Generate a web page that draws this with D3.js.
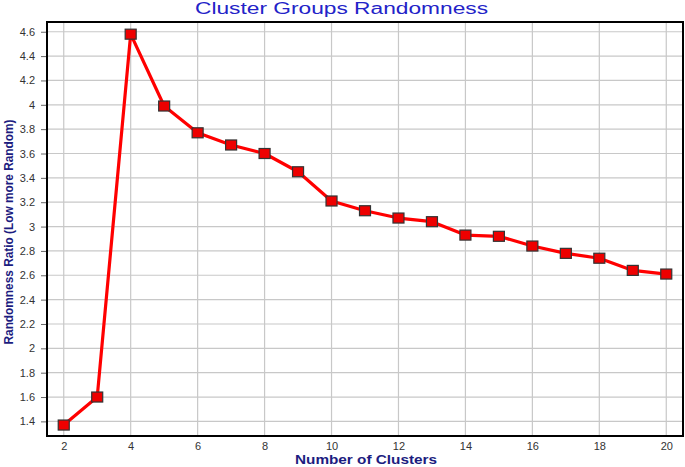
<!DOCTYPE html>
<html><head><meta charset="utf-8">
<script src="https://cdn.jsdelivr.net/npm/d3@7/dist/d3.min.js"></script>
<style>body{margin:0;background:#fff}</style>
</head><body>
<svg id="c" width="685" height="467"></svg>
<script>
const clusters = [2,3,4,5,6,7,8,9,10,11,12,13,14,15,16,17,18,19,20];
const ratio = [1.37,1.60,4.58,3.99,3.77,3.67,3.60,3.45,3.21,3.13,3.07,3.04,2.93,2.92,2.84,2.78,2.74,2.64,2.61];
const xTicks = [2,4,6,8,10,12,14,16,18,20];
const yTicks = [1.4,1.6,1.8,2,2.2,2.4,2.6,2.8,3,3.2,3.4,3.6,3.8,4,4.2,4.4,4.6];
const xGrid = [2,4,6,8,10,12,14,16,18,20];

const svg = d3.select('#c');
const L=47, R=683, T=22, B=436;
const x = d3.scaleLinear().domain([1.5,20.5]).range([L,R]);
const y = d3.scaleLinear().domain([1.28,4.68]).range([B,T]);

const g = svg.append('g');
g.selectAll('.vg').data(xGrid).enter().append('line')
  .attr('x1',d=>x(d)).attr('x2',d=>x(d)).attr('y1',T).attr('y2',B)
  .attr('stroke','#c8c8c8').attr('stroke-width',1.2);
g.selectAll('.hg').data(yTicks).enter().append('line')
  .attr('x1',L).attr('x2',R).attr('y1',d=>y(d)).attr('y2',d=>y(d))
  .attr('stroke','#c8c8c8').attr('stroke-width',1.2);

const yAxis = d3.axisLeft(y).tickValues(yTicks).tickSize(6).tickFormat(d3.format('~g'));
const ya = svg.append('g').attr('transform',`translate(${L},0)`).call(yAxis);
ya.select('.domain').remove();
ya.selectAll('line').attr('stroke','#666');
ya.selectAll('text').attr('font-family','Arial, Liberation Sans, sans-serif').attr('font-size',11).attr('fill','#333').attr('x',-12);

const xAxis = d3.axisBottom(x).tickValues(xTicks).tickSize(0).tickFormat(d3.format('d'));
const xa = svg.append('g').attr('transform',`translate(0,${B})`).call(xAxis);
xa.select('.domain').remove();
xa.selectAll('text').attr('font-family','Arial, Liberation Sans, sans-serif').attr('font-size',11).attr('fill','#333').attr('y',0).attr('dy',0)
  .attr('transform','translate(0,14)');

svg.append('rect').attr('x',L).attr('y',T).attr('width',R-L).attr('height',B-T)
  .attr('fill','none').attr('stroke','#000').attr('stroke-width',2);

const line = d3.line().x((d,i)=>x(clusters[i])).y(d=>y(d));
svg.append('path').datum(ratio).attr('d',line).attr('fill','none')
  .attr('stroke','#ff0000').attr('stroke-width',3.2).attr('stroke-linejoin','round');

svg.selectAll('.m').data(ratio).enter().append('rect')
  .attr('x',(d,i)=>x(clusters[i])-5.5).attr('y',d=>y(d)-5)
  .attr('width',11).attr('height',10)
  .attr('fill','#ee0000').attr('stroke','#333').attr('stroke-width',1.2);

svg.append('text').attr('x',341.5).attr('y',14).attr('text-anchor','middle')
  .attr('font-family','Arial, Liberation Sans, sans-serif').attr('font-size',16)
  .attr('textLength',293).attr('lengthAdjust','spacingAndGlyphs')
  .attr('fill','#2323c8').text('Cluster Groups Randomness');
svg.append('text').attr('x',366).attr('y',464).attr('text-anchor','middle')
  .attr('font-family','Arial, Liberation Sans, sans-serif').attr('font-size',12.5).attr('font-weight','bold')
  .attr('textLength',142).attr('lengthAdjust','spacingAndGlyphs')
  .attr('fill','#1c1c80').text('Number of Clusters');
svg.append('text').attr('transform','translate(13,232) rotate(-90)').attr('text-anchor','middle')
  .attr('font-family','Liberation Sans Narrow, Arial Narrow, sans-serif').attr('font-size',12.5).attr('font-weight','bold')
  .attr('textLength',225).attr('lengthAdjust','spacingAndGlyphs')
  .attr('fill','#1c1c80').text('Randomness Ratio  (Low more Random)');
</script>
</body></html>
